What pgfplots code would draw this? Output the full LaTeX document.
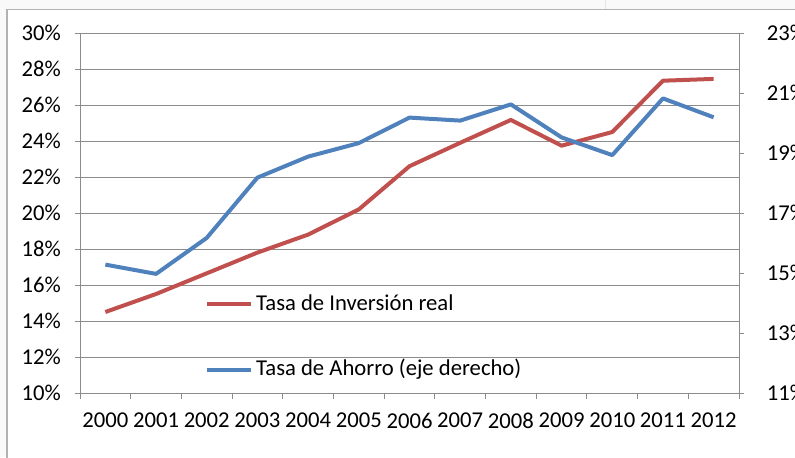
\documentclass[border=0pt]{standalone}
\usepackage{fontspec}
\setmainfont{Carlito}
\usepackage{pgfplots}
\pgfplotsset{compat=1.18}
\definecolor{cred}{HTML}{C0504D}
\definecolor{cblue}{HTML}{4F81BD}
\definecolor{cgrid}{HTML}{8C8C8C}
\begin{document}
\fontsize{17pt}{20pt}\selectfont
\begin{tikzpicture}
\path[use as bounding box] (0,0) rectangle (596.25pt,-342.75pt);
\fill[gray!5] (0,0) rectangle (5.25pt,-342.75pt);
\fill[gray!5] (0,0) rectangle (596.25pt,-7pt);
\draw[gray!20, line width=0.75pt] (454pt,0pt) -- (454pt,-7pt);
\draw[gray!60, line width=0.9pt] (5.25pt,-400pt) -- (5.25pt,-7pt) -- (700pt,-7pt);
\pgfplotsset{
  base/.style={
    at={(60pt,-294.75pt)}, anchor=south west,
    width=494.25pt, height=270pt, scale only axis,
    xmin=-0.5, xmax=12.5,
    tick align=outside,
    axis line style={cgrid, line width=0.75pt},
    tick style={cgrid, line width=0.75pt},
    major tick length=4pt,
    tick label style={font=\fontsize{17pt}{20pt}\selectfont},
    clip=false,
  }
}
\begin{axis}[base,
  ymin=10, ymax=30,
  xtick={0,...,12},
  xticklabels={2000,2001,2002,2003,2004,2005,2006,2007,2008,2009,2010,2011,2012},
  major x tick style={draw=none},
  minor xtick={-0.5,0.5,...,12.5},
  minor tick length=4.5pt,
  ytick={10,12,...,30},
  yticklabels={10\%,12\%,14\%,16\%,18\%,20\%,22\%,24\%,26\%,28\%,30\%},
  y tick label style={xshift=-4.5pt},
  x tick label style={yshift=-5pt},
  ymajorgrids, grid style={cgrid, line width=0.75pt},
  axis x line*=bottom, axis y line*=left,
  legend image code/.code={\draw[#1] (0pt,0pt) -- (33pt,0pt);},
  legend style={at={(0.1900,0.1556)}, anchor=west, draw=none, fill=none,
    inner sep=0pt, row sep=30pt,
    nodes={text height=12pt, text depth=3pt, inner sep=2pt, font=\fontsize{17pt}{20pt}\selectfont}},
  legend cell align=left,
]
\addplot[cred, line width=3pt, line join=round] coordinates {
(0,14.5) (1,15.5) (2,16.65) (3,17.8) (4,18.8) (5,20.2) (6,22.6) (7,23.9) (8,25.17) (9,23.74) (10,24.5) (11,27.35) (12,27.45)};
\addlegendentry{Tasa de Inversión real}
\addlegendimage{cblue, line width=3pt}
\addlegendentry{Tasa de Ahorro (eje derecho)}
\end{axis}
\begin{axis}[base,
  ymin=11, ymax=23,
  ytick={11,13,...,23},
  yticklabels={11\%,13\%,15\%,17\%,19\%,21\%,23\%},
  y tick label style={xshift=11pt},
  axis y line*=right, axis x line=none,
]
\addplot[cblue, line width=3pt, line join=round] coordinates {
(0,15.28) (1,14.97) (2,16.17) (3,18.18) (4,18.88) (5,19.33) (6,20.18) (7,20.08) (8,20.62) (9,19.52) (10,18.93) (11,20.82) (12,20.19)};
\end{axis}
\end{tikzpicture}
\end{document}
